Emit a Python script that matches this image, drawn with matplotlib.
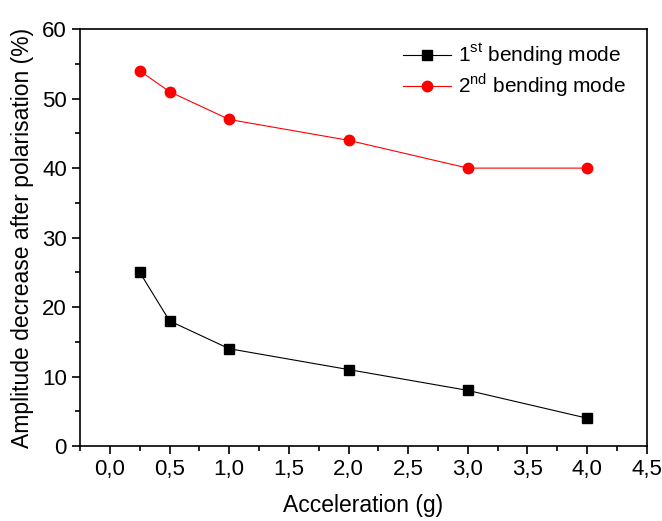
import numpy as np
import matplotlib.pyplot as plt
from matplotlib.ticker import MultipleLocator, FuncFormatter

plt.rcParams["font.family"] = ["Liberation Sans", "DejaVu Sans"]

accel = [0.25, 0.5, 1.0, 2.0, 3.0, 4.0]
mode1 = [25, 18, 14, 11, 8, 4]
mode2 = [54, 51, 47, 44, 40, 40]

fig = plt.figure(figsize=(6.62, 5.21), dpi=100)
ax = fig.add_axes([0.121, 0.144, 0.856, 0.8])

ax.plot(accel, mode1, "-", color="black", lw=0.8, marker="s", ms=6.5,
        label=r"1$^{\mathregular{st}}$ bending mode")
ax.plot(accel, mode2, "-", color="red", lw=0.8, marker="o", ms=7.5,
        label=r"2$^{\mathregular{nd}}$ bending mode")

ax.set_xlim(-0.25, 4.5)
ax.set_ylim(0, 60)
ax.xaxis.set_major_locator(MultipleLocator(0.5))
ax.xaxis.set_minor_locator(MultipleLocator(0.25))
ax.yaxis.set_major_locator(MultipleLocator(10))
ax.yaxis.set_minor_locator(MultipleLocator(5))
ax.xaxis.set_major_formatter(FuncFormatter(lambda v, p: f"{v:.1f}".replace(".", ",")))

ax.tick_params(which="both", direction="out", width=1.2, labelsize=16)
ax.tick_params(which="major", length=6)
ax.tick_params(which="minor", length=3.5)
for s in ax.spines.values():
    s.set_linewidth(1.2)

ax.set_xlabel("Acceleration (g)", fontsize=16.5, labelpad=10)
ax.set_ylabel("Amplitude decrease after polarisation (%)", fontsize=16.5, labelpad=6)

ax.legend(loc="upper right", bbox_to_anchor=(0.997, 1.014), frameon=False,
          fontsize=15, handlelength=2.3, handletextpad=0.35, labelspacing=0.15)

fig.savefig("out.png", dpi=100)
